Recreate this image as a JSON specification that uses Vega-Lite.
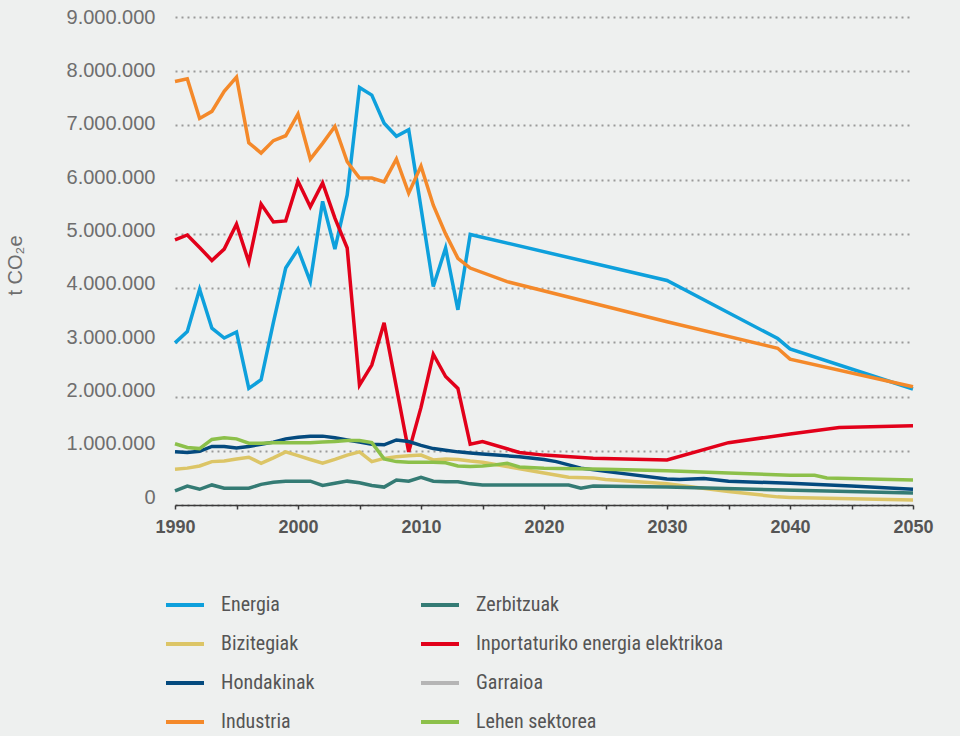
{
 "$schema": "https://vega.github.io/schema/vega-lite/v6.json",
 "width": 738,
 "height": 488,
 "autosize": {"type": "none"},
 "padding": {"left": 175, "top": 17, "right": 47, "bottom": 231},
 "background": "#eef0ef",
 "config": {"view": {"stroke": null}, "font": "Liberation Sans"},
 "data": {"values": [
  {"s":"Energia","year":1990,"v":2990000},{"s":"Energia","year":1991,"v":3200000},{"s":"Energia","year":1992,"v":3980000},{"s":"Energia","year":1993,"v":3260000},{"s":"Energia","year":1994,"v":3080000},{"s":"Energia","year":1995,"v":3190000},{"s":"Energia","year":1996,"v":2150000},{"s":"Energia","year":1997,"v":2310000},{"s":"Energia","year":1998,"v":3370000},{"s":"Energia","year":1999,"v":4370000},{"s":"Energia","year":2000,"v":4720000},{"s":"Energia","year":2001,"v":4120000},{"s":"Energia","year":2002,"v":5600000},{"s":"Energia","year":2003,"v":4720000},{"s":"Energia","year":2004,"v":5720000},{"s":"Energia","year":2005,"v":7700000},{"s":"Energia","year":2006,"v":7560000},{"s":"Energia","year":2007,"v":7040000},{"s":"Energia","year":2008,"v":6800000},{"s":"Energia","year":2009,"v":6920000},{"s":"Energia","year":2010,"v":5480000},{"s":"Energia","year":2011,"v":4030000},{"s":"Energia","year":2012,"v":4740000},{"s":"Energia","year":2013,"v":3600000},{"s":"Energia","year":2014,"v":4990000},{"s":"Energia","year":2030,"v":4140000},{"s":"Energia","year":2039,"v":3070000},{"s":"Energia","year":2040,"v":2880000},{"s":"Energia","year":2050,"v":2140000},
  {"s":"Industria","year":1990,"v":7810000},{"s":"Industria","year":1991,"v":7860000},{"s":"Industria","year":1992,"v":7130000},{"s":"Industria","year":1993,"v":7260000},{"s":"Industria","year":1994,"v":7630000},{"s":"Industria","year":1995,"v":7890000},{"s":"Industria","year":1996,"v":6680000},{"s":"Industria","year":1997,"v":6490000},{"s":"Industria","year":1998,"v":6720000},{"s":"Industria","year":1999,"v":6810000},{"s":"Industria","year":2000,"v":7210000},{"s":"Industria","year":2001,"v":6380000},{"s":"Industria","year":2002,"v":6670000},{"s":"Industria","year":2003,"v":6980000},{"s":"Industria","year":2004,"v":6330000},{"s":"Industria","year":2005,"v":6030000},{"s":"Industria","year":2006,"v":6030000},{"s":"Industria","year":2007,"v":5960000},{"s":"Industria","year":2008,"v":6380000},{"s":"Industria","year":2009,"v":5750000},{"s":"Industria","year":2010,"v":6250000},{"s":"Industria","year":2011,"v":5530000},{"s":"Industria","year":2012,"v":5000000},{"s":"Industria","year":2013,"v":4550000},{"s":"Industria","year":2014,"v":4370000},{"s":"Industria","year":2017,"v":4120000},{"s":"Industria","year":2024,"v":3720000},{"s":"Industria","year":2030,"v":3380000},{"s":"Industria","year":2039,"v":2890000},{"s":"Industria","year":2040,"v":2690000},{"s":"Industria","year":2050,"v":2180000},
  {"s":"Inportaturiko energia elektrikoa","year":1990,"v":4890000},{"s":"Inportaturiko energia elektrikoa","year":1991,"v":4980000},{"s":"Inportaturiko energia elektrikoa","year":1992,"v":4750000},{"s":"Inportaturiko energia elektrikoa","year":1993,"v":4510000},{"s":"Inportaturiko energia elektrikoa","year":1994,"v":4720000},{"s":"Inportaturiko energia elektrikoa","year":1995,"v":5180000},{"s":"Inportaturiko energia elektrikoa","year":1996,"v":4480000},{"s":"Inportaturiko energia elektrikoa","year":1997,"v":5550000},{"s":"Inportaturiko energia elektrikoa","year":1998,"v":5220000},{"s":"Inportaturiko energia elektrikoa","year":1999,"v":5240000},{"s":"Inportaturiko energia elektrikoa","year":2000,"v":5970000},{"s":"Inportaturiko energia elektrikoa","year":2001,"v":5500000},{"s":"Inportaturiko energia elektrikoa","year":2002,"v":5940000},{"s":"Inportaturiko energia elektrikoa","year":2003,"v":5290000},{"s":"Inportaturiko energia elektrikoa","year":2004,"v":4740000},{"s":"Inportaturiko energia elektrikoa","year":2005,"v":2210000},{"s":"Inportaturiko energia elektrikoa","year":2006,"v":2580000},{"s":"Inportaturiko energia elektrikoa","year":2007,"v":3360000},{"s":"Inportaturiko energia elektrikoa","year":2008,"v":2170000},{"s":"Inportaturiko energia elektrikoa","year":2009,"v":980000},{"s":"Inportaturiko energia elektrikoa","year":2010,"v":1800000},{"s":"Inportaturiko energia elektrikoa","year":2011,"v":2780000},{"s":"Inportaturiko energia elektrikoa","year":2012,"v":2370000},{"s":"Inportaturiko energia elektrikoa","year":2013,"v":2150000},{"s":"Inportaturiko energia elektrikoa","year":2014,"v":1120000},{"s":"Inportaturiko energia elektrikoa","year":2015,"v":1170000},{"s":"Inportaturiko energia elektrikoa","year":2018,"v":970000},{"s":"Inportaturiko energia elektrikoa","year":2020,"v":920000},{"s":"Inportaturiko energia elektrikoa","year":2024,"v":860000},{"s":"Inportaturiko energia elektrikoa","year":2030,"v":830000},{"s":"Inportaturiko energia elektrikoa","year":2035,"v":1150000},{"s":"Inportaturiko energia elektrikoa","year":2040,"v":1310000},{"s":"Inportaturiko energia elektrikoa","year":2044,"v":1430000},{"s":"Inportaturiko energia elektrikoa","year":2050,"v":1460000},
  {"s":"Bizitegiak","year":1990,"v":660000},{"s":"Bizitegiak","year":1991,"v":680000},{"s":"Bizitegiak","year":1992,"v":720000},{"s":"Bizitegiak","year":1993,"v":800000},{"s":"Bizitegiak","year":1994,"v":810000},{"s":"Bizitegiak","year":1995,"v":850000},{"s":"Bizitegiak","year":1996,"v":880000},{"s":"Bizitegiak","year":1997,"v":770000},{"s":"Bizitegiak","year":1998,"v":870000},{"s":"Bizitegiak","year":1999,"v":980000},{"s":"Bizitegiak","year":2000,"v":910000},{"s":"Bizitegiak","year":2001,"v":840000},{"s":"Bizitegiak","year":2002,"v":770000},{"s":"Bizitegiak","year":2003,"v":840000},{"s":"Bizitegiak","year":2004,"v":920000},{"s":"Bizitegiak","year":2005,"v":980000},{"s":"Bizitegiak","year":2006,"v":800000},{"s":"Bizitegiak","year":2007,"v":860000},{"s":"Bizitegiak","year":2008,"v":890000},{"s":"Bizitegiak","year":2009,"v":910000},{"s":"Bizitegiak","year":2010,"v":920000},{"s":"Bizitegiak","year":2011,"v":830000},{"s":"Bizitegiak","year":2012,"v":850000},{"s":"Bizitegiak","year":2013,"v":840000},{"s":"Bizitegiak","year":2014,"v":810000},{"s":"Bizitegiak","year":2015,"v":790000},{"s":"Bizitegiak","year":2017,"v":710000},{"s":"Bizitegiak","year":2020,"v":590000},{"s":"Bizitegiak","year":2022,"v":510000},{"s":"Bizitegiak","year":2024,"v":500000},{"s":"Bizitegiak","year":2025,"v":470000},{"s":"Bizitegiak","year":2030,"v":390000},{"s":"Bizitegiak","year":2035,"v":250000},{"s":"Bizitegiak","year":2039,"v":150000},{"s":"Bizitegiak","year":2040,"v":140000},{"s":"Bizitegiak","year":2050,"v":90000},
  {"s":"Hondakinak","year":1990,"v":980000},{"s":"Hondakinak","year":1991,"v":970000},{"s":"Hondakinak","year":1992,"v":990000},{"s":"Hondakinak","year":1993,"v":1080000},{"s":"Hondakinak","year":1994,"v":1080000},{"s":"Hondakinak","year":1995,"v":1050000},{"s":"Hondakinak","year":1996,"v":1080000},{"s":"Hondakinak","year":1997,"v":1120000},{"s":"Hondakinak","year":1998,"v":1160000},{"s":"Hondakinak","year":1999,"v":1220000},{"s":"Hondakinak","year":2000,"v":1250000},{"s":"Hondakinak","year":2001,"v":1270000},{"s":"Hondakinak","year":2002,"v":1270000},{"s":"Hondakinak","year":2003,"v":1240000},{"s":"Hondakinak","year":2004,"v":1200000},{"s":"Hondakinak","year":2005,"v":1160000},{"s":"Hondakinak","year":2006,"v":1120000},{"s":"Hondakinak","year":2007,"v":1110000},{"s":"Hondakinak","year":2008,"v":1200000},{"s":"Hondakinak","year":2009,"v":1170000},{"s":"Hondakinak","year":2010,"v":1100000},{"s":"Hondakinak","year":2011,"v":1040000},{"s":"Hondakinak","year":2012,"v":1010000},{"s":"Hondakinak","year":2013,"v":980000},{"s":"Hondakinak","year":2014,"v":960000},{"s":"Hondakinak","year":2015,"v":940000},{"s":"Hondakinak","year":2018,"v":890000},{"s":"Hondakinak","year":2020,"v":840000},{"s":"Hondakinak","year":2021,"v":800000},{"s":"Hondakinak","year":2023,"v":680000},{"s":"Hondakinak","year":2025,"v":620000},{"s":"Hondakinak","year":2030,"v":480000},{"s":"Hondakinak","year":2031,"v":470000},{"s":"Hondakinak","year":2033,"v":490000},{"s":"Hondakinak","year":2035,"v":440000},{"s":"Hondakinak","year":2040,"v":400000},{"s":"Hondakinak","year":2045,"v":350000},{"s":"Hondakinak","year":2050,"v":290000},
  {"s":"Lehen sektorea","year":1990,"v":1130000},{"s":"Lehen sektorea","year":1991,"v":1060000},{"s":"Lehen sektorea","year":1992,"v":1040000},{"s":"Lehen sektorea","year":1993,"v":1210000},{"s":"Lehen sektorea","year":1994,"v":1240000},{"s":"Lehen sektorea","year":1995,"v":1220000},{"s":"Lehen sektorea","year":1996,"v":1140000},{"s":"Lehen sektorea","year":1997,"v":1140000},{"s":"Lehen sektorea","year":1998,"v":1150000},{"s":"Lehen sektorea","year":1999,"v":1150000},{"s":"Lehen sektorea","year":2000,"v":1150000},{"s":"Lehen sektorea","year":2001,"v":1150000},{"s":"Lehen sektorea","year":2002,"v":1160000},{"s":"Lehen sektorea","year":2003,"v":1170000},{"s":"Lehen sektorea","year":2004,"v":1190000},{"s":"Lehen sektorea","year":2005,"v":1190000},{"s":"Lehen sektorea","year":2006,"v":1150000},{"s":"Lehen sektorea","year":2007,"v":850000},{"s":"Lehen sektorea","year":2008,"v":800000},{"s":"Lehen sektorea","year":2009,"v":790000},{"s":"Lehen sektorea","year":2010,"v":790000},{"s":"Lehen sektorea","year":2011,"v":790000},{"s":"Lehen sektorea","year":2012,"v":780000},{"s":"Lehen sektorea","year":2013,"v":720000},{"s":"Lehen sektorea","year":2014,"v":710000},{"s":"Lehen sektorea","year":2015,"v":720000},{"s":"Lehen sektorea","year":2016,"v":740000},{"s":"Lehen sektorea","year":2017,"v":770000},{"s":"Lehen sektorea","year":2018,"v":700000},{"s":"Lehen sektorea","year":2020,"v":680000},{"s":"Lehen sektorea","year":2025,"v":660000},{"s":"Lehen sektorea","year":2030,"v":630000},{"s":"Lehen sektorea","year":2035,"v":590000},{"s":"Lehen sektorea","year":2040,"v":550000},{"s":"Lehen sektorea","year":2042,"v":550000},{"s":"Lehen sektorea","year":2043,"v":500000},{"s":"Lehen sektorea","year":2050,"v":460000},
  {"s":"Zerbitzuak","year":1990,"v":260000},{"s":"Zerbitzuak","year":1991,"v":350000},{"s":"Zerbitzuak","year":1992,"v":290000},{"s":"Zerbitzuak","year":1993,"v":370000},{"s":"Zerbitzuak","year":1994,"v":310000},{"s":"Zerbitzuak","year":1995,"v":310000},{"s":"Zerbitzuak","year":1996,"v":310000},{"s":"Zerbitzuak","year":1997,"v":380000},{"s":"Zerbitzuak","year":1998,"v":420000},{"s":"Zerbitzuak","year":1999,"v":440000},{"s":"Zerbitzuak","year":2000,"v":440000},{"s":"Zerbitzuak","year":2001,"v":440000},{"s":"Zerbitzuak","year":2002,"v":360000},{"s":"Zerbitzuak","year":2003,"v":400000},{"s":"Zerbitzuak","year":2004,"v":440000},{"s":"Zerbitzuak","year":2005,"v":410000},{"s":"Zerbitzuak","year":2006,"v":360000},{"s":"Zerbitzuak","year":2007,"v":330000},{"s":"Zerbitzuak","year":2008,"v":460000},{"s":"Zerbitzuak","year":2009,"v":440000},{"s":"Zerbitzuak","year":2010,"v":510000},{"s":"Zerbitzuak","year":2011,"v":440000},{"s":"Zerbitzuak","year":2012,"v":430000},{"s":"Zerbitzuak","year":2013,"v":430000},{"s":"Zerbitzuak","year":2014,"v":390000},{"s":"Zerbitzuak","year":2015,"v":370000},{"s":"Zerbitzuak","year":2022,"v":370000},{"s":"Zerbitzuak","year":2023,"v":310000},{"s":"Zerbitzuak","year":2024,"v":350000},{"s":"Zerbitzuak","year":2030,"v":330000},{"s":"Zerbitzuak","year":2050,"v":220000}
 ]},
 "mark": {"type": "line", "strokeWidth": 3.5, "clip": false},
 "encoding": {
  "x": {"field": "year", "type": "quantitative",
   "scale": {"domain": [1990, 2050], "nice": false, "zero": false},
   "axis": {"title": null, "values": [1990,1995,2000,2005,2010,2015,2020,2025,2030,2035,2040,2045,2050],
    "labelExpr": "datum.value % 10 === 0 ? '' + datum.value : ''", "labelOverlap": false, "labelFlush": false,
    "grid": false, "domainColor": "#3a3a3a", "domainWidth": 1.5, "tickColor": "#3a3a3a", "tickWidth": 1.5, "tickSize": 4,
    "labelFont": "Liberation Sans", "labelFontWeight": "bold", "labelFontSize": 18, "labelColor": "#555555", "labelPadding": 9}},
  "y": {"field": "v", "type": "quantitative",
   "scale": {"domain": [0, 9000000], "nice": false},
   "axis": {"title": "t CO₂e", "values": [0,1000000,2000000,3000000,4000000,5000000,6000000,7000000,8000000,9000000],
    "labelExpr": "join(split(format(datum.value, ','), ','), '.')",
    "domain": false, "ticks": false, "gridColor": "#9a9a9a", "gridDash": [2, 4], "gridWidth": 2,
    "labelFont": "Liberation Sans", "labelFontSize": 20, "labelColor": "#6e6e6e", "labelPadding": 20,
    "labelOffset": {"expr": "-8 + 8 * datum.value / 9000000"},
    "titleFont": "Liberation Sans", "titleFontSize": 20, "titleFontWeight": "normal", "titleColor": "#6e6e6e",
    "titleX": -154, "titleY": 248, "titleAngle": -90, "titleBaseline": "alphabetic", "titleAlign": "center"}},
  "color": {"field": "s", "type": "nominal",
   "scale": {"domain": ["Energia", "Bizitegiak", "Hondakinak", "Industria", "Zerbitzuak", "Inportaturiko energia elektrikoa", "Garraioa", "Lehen sektorea"],
    "range": ["#0ea0dc", "#dcc566", "#044a7e", "#f4892a", "#347b74", "#e2001a", "#b5b5b5", "#8cc04a"]},
   "legend": {"title": null, "orient": "none", "legendX": -11, "legendY": 567, "columns": 2, "columnPadding": 98, "rowPadding": 8,
    "gridAlign": "each", "padding": 0, "symbolType": "stroke", "symbolSize": 1444, "symbolStrokeWidth": 4,
    "labelFont": "Roboto Condensed, DejaVu Sans Condensed, Roboto, sans-serif", "labelFontSize": 20, "labelColor": "#555555", "labelOffset": 15, "labelLimit": 400}}
 }
}
